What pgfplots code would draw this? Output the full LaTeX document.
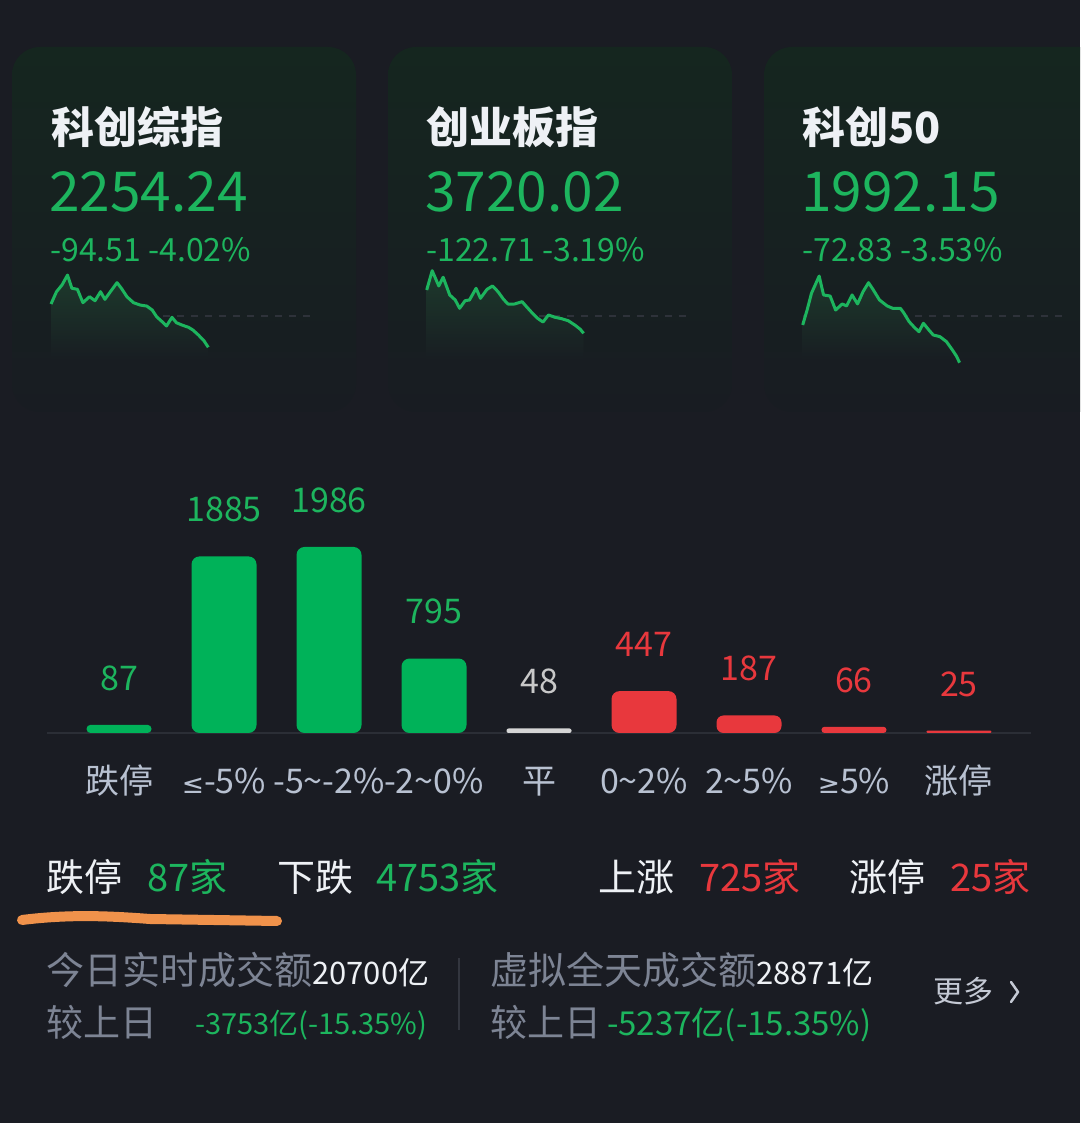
\documentclass[border=0pt]{standalone}
\usepackage{pgfplots}
\pgfplotsset{compat=1.18}
\usepackage{fontspec}
\setmainfont{Noto Sans CJK SC}
\newfontfamily\symfont{DejaVu Sans}[Scale=0.78]
\newcommand\fs[1]{\fontsize{#1}{#1}\selectfont}
\definecolor{bg}{HTML}{1A1C23}
\definecolor{cardtop}{HTML}{15261F}
\definecolor{cardbot}{HTML}{181C22}
\definecolor{sfill}{HTML}{1D3A2C}
\definecolor{sbot}{HTML}{181D22}
\definecolor{gtxt}{HTML}{1DB55E}
\definecolor{gbar}{HTML}{00B259}
\definecolor{rtxt}{HTML}{E8383D}
\definecolor{graytxt}{HTML}{C8C8C8}
\definecolor{graybar}{HTML}{D5D5D5}
\definecolor{titlecol}{HTML}{EEF1F5}
\definecolor{tickcol}{HTML}{B8C1D1}
\definecolor{dimtxt}{HTML}{7D8494}
\definecolor{basecol}{HTML}{2B2E36}
\definecolor{dashcol}{HTML}{2E323A}
\definecolor{sepcol}{HTML}{33363F}
\definecolor{orangeline}{HTML}{F0924B}
\definecolor{moretxt}{HTML}{C4C9D4}
\pgfplotsset{spark/.style={scale only axis, anchor=south west, height=90pt,
  xmin=0, xmax=240, hide axis, clip=false}}
\begin{document}
\begin{tikzpicture}[x=1pt,y=1pt]
\useasboundingbox (0,0) rectangle (1080,1123);
\fill[bg] (0,0) rectangle (1080,1123);
\begin{scope}
\clip (0,0) rectangle (1080,1123);
\foreach \cx in {12,388,764} {
  \shade[top color=cardtop, bottom color=cardbot, rounded corners=28pt] (\cx,711) rectangle (\cx+344,1076);
}
\end{scope}
% card texts
\node[anchor=base west, inner sep=0pt, text=titlecol, font=\fs{43}\bfseries] at (51,979) {科创综指};
\node[anchor=base west, inner sep=0pt, text=titlecol, font=\fs{43}\bfseries] at (426,979) {创业板指};
\node[anchor=base west, inner sep=0pt, text=titlecol, font=\fs{43}\bfseries] at (802,979) {科创50};
\node[anchor=base west, inner sep=0pt, text=gtxt, font=\fs{55}] at (49,911) {2254.24};
\node[anchor=base west, inner sep=0pt, text=gtxt, font=\fs{55}] at (425,911) {3720.02};
\node[anchor=base west, inner sep=0pt, text=gtxt, font=\fs{55}] at (801,911) {1992.15};
\node[anchor=base west, inner sep=0pt, text=gtxt, font=\fs{32}] at (50,861) {-94.51 -4.02\%};
\node[anchor=base west, inner sep=0pt, text=gtxt, font=\fs{32}] at (426,861) {-122.71 -3.19\%};
\node[anchor=base west, inner sep=0pt, text=gtxt, font=\fs{32}] at (802,861) {-72.83 -3.53\%};

% sparkline 1
\begin{axis}[spark, at={(51pt,763pt)}, width=264pt, ymin=-5.65, ymax=5.91]
\addplot[dashcol, line width=1.5pt, dash pattern=on 7pt off 7pt] coordinates {(0,0) (240,0)};
\addplot[draw=none, top color=sfill, bottom color=sbot] coordinates {(0,-5.65) (0,1.54) (5,3.12) (10,3.98) (15,5.26) (19,3.56) (24,3.43) (29,1.71) (35,2.48) (40,1.96) (45,3.12) (49,2.14) (54,3.12) (60,4.28) (64,3.56) (69,2.48) (75,1.71) (81,1.41) (87,1.28) (92,0.77) (96,-0.09) (101,-0.73) (105,-1.28) (110,-0.17) (114,-0.86) (119,-1.16) (125,-1.45) (129,-1.80) (134,-2.44) (139,-3.17) (143,-4.02) (143,-5.65)} -- cycle;
\addplot[gtxt, line width=3pt, line join=round] coordinates {(0,1.54) (5,3.12) (10,3.98) (15,5.26) (19,3.56) (24,3.43) (29,1.71) (35,2.48) (40,1.96) (45,3.12) (49,2.14) (54,3.12) (60,4.28) (64,3.56) (69,2.48) (75,1.71) (81,1.41) (87,1.28) (92,0.77) (96,-0.09) (101,-0.73) (105,-1.28) (110,-0.17) (114,-0.86) (119,-1.16) (125,-1.45) (129,-1.80) (134,-2.44) (139,-3.17) (143,-4.02)};
\end{axis}
% sparkline 2
\begin{axis}[spark, at={(426.7pt,763pt)}, width=263.3pt, ymin=-8.11, ymax=8.48]
\addplot[dashcol, line width=1.5pt, dash pattern=on 7pt off 7pt] coordinates {(0,0) (240,0)};
\addplot[draw=none, top color=sfill, bottom color=sbot] coordinates {(0,-8.11) (0,4.79) (5,8.35) (11,5.53) (15,7.14) (21,3.87) (26,2.95) (30,1.42) (35,2.82) (39,2.95) (45,5.11) (49,3.26) (55,4.92) (60,5.53) (65,4.48) (70,3.08) (74,2.21) (80,2.21) (87,2.64) (91,1.71) (97,0.37) (101,-0.42) (106,-1.11) (111,0.18) (117,-0.24) (123,-0.50) (129,-0.87) (135,-1.66) (140,-2.45) (143,-3.19) (143,-8.11)} -- cycle;
\addplot[gtxt, line width=3pt, line join=round] coordinates {(0,4.79) (5,8.35) (11,5.53) (15,7.14) (21,3.87) (26,2.95) (30,1.42) (35,2.82) (39,2.95) (45,5.11) (49,3.26) (55,4.92) (60,5.53) (65,4.48) (70,3.08) (74,2.21) (80,2.21) (87,2.64) (91,1.71) (97,0.37) (101,-0.42) (106,-1.11) (111,0.18) (117,-0.24) (123,-0.50) (129,-0.87) (135,-1.66) (140,-2.45) (143,-3.19)};
\end{axis}
% sparkline 3
\begin{axis}[spark, at={(802.7pt,763pt)}, width=263.3pt, ymin=-3.33, ymax=3.48]
\addplot[dashcol, line width=1.5pt, dash pattern=on 7pt off 7pt] coordinates {(0,0) (240,0)};
\addplot[draw=none, top color=sfill, bottom color=sbot] coordinates {(0,-3.33) (0,-0.68) (4,0.45) (8,1.72) (15,3.02) (19,1.59) (25,1.51) (30,0.45) (36,0.91) (40,0.76) (45,1.59) (50,0.91) (55,1.84) (60,2.52) (64,2.02) (70,1.21) (77,0.76) (82,0.58) (89,0.58) (92,0.25) (97,-0.43) (102,-0.88) (106,-1.19) (110,-0.55) (115,-1.06) (119,-1.44) (125,-1.56) (131,-1.94) (136,-2.52) (140,-3.02) (143,-3.33)} -- cycle;
\addplot[gtxt, line width=3pt, line join=round] coordinates {(0,-0.68) (4,0.45) (8,1.72) (15,3.02) (19,1.59) (25,1.51) (30,0.45) (36,0.91) (40,0.76) (45,1.59) (50,0.91) (55,1.84) (60,2.52) (64,2.02) (70,1.21) (77,0.76) (82,0.58) (89,0.58) (92,0.25) (97,-0.43) (102,-0.88) (106,-1.19) (110,-0.55) (115,-1.06) (119,-1.44) (125,-1.56) (131,-1.94) (136,-2.52) (140,-3.02) (143,-3.53)};
\end{axis}

% bar chart
\begin{axis}[at={(47pt,390pt)}, anchor=south west, scale only axis,
  width=984pt, height=234pt, xmin=-0.686, xmax=8.686, ymin=0, ymax=2498,
  axis line style={draw=none}, ytick=\empty, xtick={0,...,8},
  xticklabels={跌停, {\symfont ≤}-5\%, -5\textasciitilde-2\%, -2\textasciitilde0\%, 平, 0\textasciitilde2\%, 2\textasciitilde5\%, {\symfont ≥}5\%, 涨停},
  major tick length=0pt,
  xticklabel style={anchor=base, yshift=-61pt, font=\fs{34}, text=tickcol},
  ybar, bar width=65pt, clip=false,
  /pgf/number format/1000 sep={}, /pgf/number format/assume math mode=true,
  every node near coord/.append style={inner sep=0pt, yshift=34pt, font=\fs{34}}]
\draw[basecol, line width=1.5pt] (axis cs:-0.686,0) -- (axis cs:8.686,0);
\addplot[bar shift=0pt, fill=gbar, draw=none, rounded corners=4pt, nodes near coords, every node near coord/.append style={text=gtxt}] coordinates {(0,87)};
\addplot[bar shift=0pt, fill=gbar, draw=none, rounded corners=8pt, nodes near coords, every node near coord/.append style={text=gtxt}] coordinates {(1,1885)};
\addplot[bar shift=0pt, fill=gbar, draw=none, rounded corners=8pt, nodes near coords, every node near coord/.append style={text=gtxt}] coordinates {(2,1986)};
\addplot[bar shift=0pt, fill=gbar, draw=none, rounded corners=8pt, nodes near coords, every node near coord/.append style={text=gtxt}] coordinates {(3,795)};
\addplot[bar shift=0pt, fill=graybar, draw=none, rounded corners=2pt, nodes near coords, every node near coord/.append style={text=graytxt}] coordinates {(4,48)};
\addplot[bar shift=0pt, fill=rtxt, draw=none, rounded corners=8pt, nodes near coords, every node near coord/.append style={text=rtxt}] coordinates {(5,447)};
\addplot[bar shift=0pt, fill=rtxt, draw=none, rounded corners=7pt, nodes near coords, every node near coord/.append style={text=rtxt}] coordinates {(6,187)};
\addplot[bar shift=0pt, fill=rtxt, draw=none, rounded corners=3pt, nodes near coords, every node near coord/.append style={text=rtxt}] coordinates {(7,66)};
\addplot[bar shift=0pt, fill=rtxt, draw=none, rounded corners=1pt, nodes near coords, every node near coord/.append style={text=rtxt}] coordinates {(8,25)};
\end{axis}

% summary rows
\node[anchor=base west, inner sep=0pt, text=titlecol, font=\fs{38}] at (46,231) {跌停};
\node[anchor=base west, inner sep=0pt, text=gtxt, font=\fs{38}] at (147,231) {87家};
\node[anchor=base west, inner sep=0pt, text=titlecol, font=\fs{38}] at (277,231) {下跌};
\node[anchor=base west, inner sep=0pt, text=gtxt, font=\fs{38}] at (376,231) {4753家};
\node[anchor=base west, inner sep=0pt, text=titlecol, font=\fs{38}] at (598,231) {上涨};
\node[anchor=base west, inner sep=0pt, text=rtxt, font=\fs{38}] at (699,231) {725家};
\node[anchor=base west, inner sep=0pt, text=titlecol, font=\fs{38}] at (849,231) {涨停};
\node[anchor=base west, inner sep=0pt, text=rtxt, font=\fs{38}] at (950,231) {25家};
\draw[orangeline, line width=10pt, line cap=round] (22,203) .. controls (70,209) and (110,207) .. (150,204) -- (277,202);

\node[anchor=base west, inner sep=0pt, font=\fs{38}] at (46,138) {\textcolor{dimtxt}{今日实时成交额}\textcolor{titlecol}{\fs{31}20700亿}};
\node[anchor=base west, inner sep=0pt, text=dimtxt, font=\fs{37}] at (46,86) {较上日};
\node[anchor=base west, inner sep=0pt, text=gtxt, font=\fs{29}] at (195,88) {-3753亿(-15.35\%)};
\draw[sepcol, line width=1.5pt] (459,165) -- (459,93);
\node[anchor=base west, inner sep=0pt, font=\fs{38}] at (490,138) {\textcolor{dimtxt}{虚拟全天成交额}\textcolor{titlecol}{\fs{31}28871亿}};
\node[anchor=base west, inner sep=0pt, text=dimtxt, font=\fs{37}] at (490,86) {较上日};
\node[anchor=base west, inner sep=0pt, text=gtxt, font=\fs{33}] at (607,87) {-5237亿(-15.35\%)};
\node[anchor=base west, inner sep=0pt, text=moretxt, font=\fs{30}] at (933,120) {更多};
\draw[moretxt, line width=2.5pt, line cap=round, line join=round] (1011,141) -- (1018,131) -- (1011,121);
\end{tikzpicture}
\end{document}
